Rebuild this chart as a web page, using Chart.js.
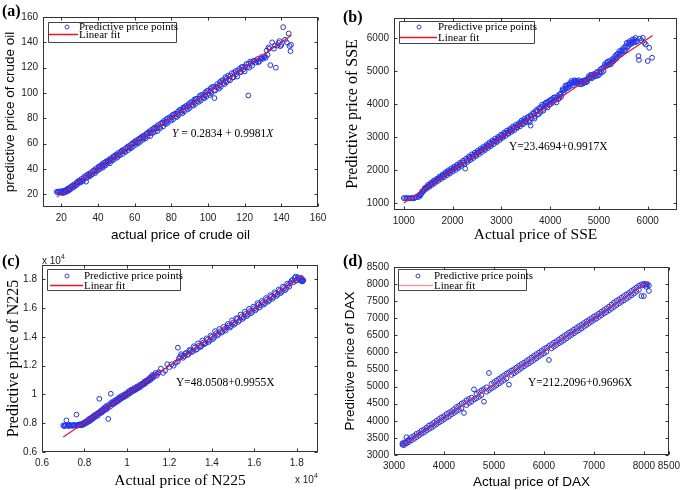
<!DOCTYPE html>
<html><head><meta charset="utf-8">
<script src="https://cdn.jsdelivr.net/npm/chart.js@4"></script>
<style>
body{margin:0;background:#fff;width:685px;height:490px;position:relative;overflow:hidden}
canvas{position:absolute}
.lab{position:absolute;white-space:nowrap;color:#000;line-height:1}
.pl{font:bold 16px 'Liberation Serif'}
.eq{font:11.5px 'Liberation Serif'}
.ex{font:10px 'Liberation Sans';color:#222}
.ex sup{font-size:7px;vertical-align:5px}
</style></head><body>
<canvas id="ca" width="340" height="245" style="left:0;top:0"></canvas>
<canvas id="cb" width="345" height="245" style="left:340px;top:0"></canvas>
<canvas id="cc" width="340" height="245" style="left:0;top:245px"></canvas>
<canvas id="cd" width="345" height="245" style="left:340px;top:245px"></canvas>
<div class="lab pl" style="left:2px;top:2px">(a)</div>
<div class="lab pl" style="left:343px;top:8px">(b)</div>
<div class="lab pl" style="left:2px;top:252px">(c)</div>
<div class="lab pl" style="left:343px;top:252px">(d)</div>
<div class="lab eq" style="left:172px;top:127px"><i>Y</i> = 0.2834 + 0.9981<i>X</i></div>
<div class="lab eq" style="left:509px;top:140px">Y=23.4694+0.9917X</div>
<div class="lab eq" style="left:176px;top:376px">Y=48.0508+0.9955X</div>
<div class="lab eq" style="left:528px;top:376px">Y=212.2096+0.9696X</div>
<div class="lab ex" style="left:42px;top:253px">x 10<sup>4</sup></div>
<div class="lab ex" style="left:295px;top:472px">x 10<sup>4</sup></div>
<script>
// ---------------- data ----------------
const oilPoints = [[17.5,22],[18,21.5],[18.5,22.3],[19,21.8],[19.5,22],[20,21.2],[20.5,22.5],[21,21],[21.5,22.8],[22,21.7],[22.5,23.4],[23,22.1],[23.5,24.5],[24,23],[24.5,25.2],[25,24],[26,26.5],[26.5,25.3],[27,27.8],[28,27],[28.5,29.5],[29,28.2],[30,31],[30.5,29.4],[31,32.2],[32,31],[33,34.5],[33.5,30],[34,33.2],[35,36.1],[35.5,34.2],[36,37],[37,36],[38,39.2],[38.5,36.8],[39,40.5],[40,39.1],[40.5,42],[41,40],[42,43.5],[42.5,41],[43,44.8],[44,42.7],[44.5,46],[45,44.2],[46,47.3],[46.5,44.5],[47,48.5],[48,46.8],[48.5,50],[49,48],[50,51.5],[50.5,49],[51,52.6],[52,50.8],[53,54.5],[53.5,52],[54,55.2],[55,53.5],[56,57.5],[56.5,55],[57,58.3],[58,56.4],[58.5,60],[59,57.6],[60,61.8],[60.5,59],[61,62.7],[62,60.3],[62.5,64],[63,61.5],[64,65.6],[64.5,63],[65,66.5],[66,64.2],[66.5,68],[67,65.8],[68,69.7],[68.5,66],[69,70.8],[70,68.5],[70.5,72.4],[71,69.5],[72,73.8],[72.5,70],[73,74.9],[74,72.3],[75,76.5],[75.5,73.6],[76,78],[77,75.5],[77.5,79.6],[78,76.4],[79,80.8],[80,78.2],[80.5,82.5],[81,79.3],[82,83.6],[83,81],[83.5,85.2],[84,82.5],[85,86.9],[86,84],[86.5,88.5],[87,85.3],[88,89.8],[89,87],[89.5,91.4],[90,88.2],[91,93],[92,90],[92.5,94.8],[93,91.3],[94,95.5],[95,93],[95.5,97.8],[96,94],[97,98.6],[98,95.8],[98.5,100.5],[99,97],[100,102],[101,98.4],[101.5,103.8],[102,100],[103,105],[103.5,96],[104,102],[105,107],[106,103.5],[106.5,108.7],[107,105],[108,110.2],[109,107],[109.5,112.5],[110,108.5],[111,113.8],[112,110],[113,115.6],[114,112.4],[115,117.3],[116,113],[117,119],[118,116.5],[119,120.5],[120,117],[121,123],[122,98],[122.5,120],[123,124.8],[124,121.5],[125,125.5],[126,124],[127,126.8],[128,125],[129,128.3],[130,127],[131,129],[132,133.5],[133,136],[134,122],[135,140],[136,135],[137,120],[138,137.5],[139,141],[140,138],[141,152],[142,142],[143,140],[144,147],[145,133],[145.3,138],[144.5,137],
[20.2,22.4],[21.3,21.6],[22.3,22.9],[23.3,23.8],[24.3,23.6],[25.3,26.2],[26.3,27],[27.3,26.4],[28.3,28.9],[29.3,30.5],[30.3,30.1],[31.3,30.6],[32.3,33.4],[33.3,33.1],[34.3,35.5],[35.3,35.2],[36.3,35.4],[37.3,38.6],[38.3,38.2],[39.3,38.6],[40.3,41.5],[41.3,42.4],[42.3,42.1],[43.3,43],[44.3,45.6],[45.3,46.2],[46.3,46],[47.3,47.1],[48.3,49.4],[49.3,50.6],[50.3,50.2],[51.3,51],[52.3,53.5],[53.3,54.2],[54.3,53.8],[55.3,56.4],[56.3,57],[57.3,56.6],[58.3,59.2],[59.3,60.5],[60.3,60.4],[61.3,61],[62.3,63.5],[63.3,64.6],[64.3,64.2],[65.3,65],[66.3,67.5],[67.3,68.7],[68.3,68.2],[69.3,69],[70.3,71.6],[71.3,72.5],[72.3,72.1],[73.3,73],[74.3,75.8],[75.3,76.8],[76.3,76.1],[77.3,77.4],[78.3,80],[79.3,79.5],[80.3,80.6],[81.3,82.9],[82.3,81.6],[83.3,83.4],[84.3,86.2],[85.3,85],[86.3,86.4],[87.3,88.9],[88.3,88.1],[89.3,89.6],[90.3,92.2],[91.3,90.6],[92.3,92.5],[93.3,95.3],[94.3,93.6],[95.3,95.4],[96.3,98.4],[97.3,96.5],[98.3,98.2],[99.3,101.4],[100.3,99.5],[101.3,101.1],[102.3,104.6],[103.3,102.2],[104.3,104.9],[105.3,104.6],[106.3,106.2],[107.3,109.4],[108.3,107.8],[109.3,109.3],[110.3,111.8],[111.3,110.9],[112.3,113.6],[113.3,112.2],[114.3,116],[115.3,114.8],[116.3,117.4],[117.3,116.4],[118.3,120.5],[119.3,118.6],[120.3,121],[121.3,120.4],[122.3,123.2],[123.5,123.6],[124.5,124.9],[126.5,125.6],[127.5,124.2],[128.5,126.9],[129.5,127.6],[130.5,128.4],[131.5,127.8],[132.5,130.2],[133.5,135],[136.5,137.5],[138.5,139.5],[139.5,137]];
const oilFitX = [17.5, 145.5];
const oilFitY = [17.8, 145.5];
const oilXTicks = [20,40,60,80,100,120,140,160];
const oilYTicks = [20,40,60,80,100,120,140,160];

const ssePoints = [[1000,1160],[1030,1155],[1060,1165],[1090,1150],[1120,1160],[1150,1148],[1180,1170],[1210,1155],[1240,1180],[1270,1190],[1300,1230],[1330,1270],[1360,1300],[1390,1350],[1420,1420],[1450,1460],[1480,1500],[1510,1520],[1540,1570],[1570,1590],[1600,1620],[1630,1670],[1660,1680],[1690,1720],[1720,1760],[1750,1770],[1780,1820],[1810,1830],[1840,1880],[1870,1890],[1900,1950],[1930,1940],[1960,1990],[1990,2010],[2020,2050],[2050,2060],[2080,2110],[2110,2100],[2140,2160],[2170,2180],[2200,2240],[2230,2220],[2260,2050],[2290,2310],[2320,2300],[2350,2390],[2380,2380],[2410,2420],[2440,2470],[2470,2460],[2500,2530],[2530,2540],[2560,2580],[2590,2600],[2620,2650],[2650,2640],[2680,2700],[2710,2740],[2740,2730],[2770,2800],[2800,2790],[2830,2860],[2860,2880],[2890,2870],[2920,2940],[2950,2980],[2980,2960],[3010,3050],[3040,3030],[3070,3100],[3100,3140],[3130,3110],[3160,3180],[3190,3220],[3220,3200],[3250,3280],[3280,3300],[3310,3290],[3340,3360],[3370,3380],[3400,3440],[3430,3420],[3460,3500],[3490,3480],[3520,3540],[3550,3600],[3580,3450],[3600,3350],[3620,3650],[3650,3700],[3680,3560],[3710,3760],[3740,3800],[3770,3700],[3800,3880],[3830,3920],[3860,3800],[3890,3960],[3920,4050],[3950,3900],[3980,4100],[4010,4000],[4040,4150],[4070,4080],[4100,4200],[4130,4050],[4160,4250],[4190,4180],[4220,4300],[4250,4400],[4280,4350],[4310,4480],[4340,4550],[4370,4500],[4400,4600],[4430,4650],[4460,4620],[4490,4680],[4520,4640],[4550,4700],[4580,4620],[4610,4680],[4640,4600],[4670,4700],[4700,4650],[4730,4720],[4760,4680],[4790,4840],[4820,4800],[4850,4870],[4880,4820],[4910,4900],[4940,4850],[4970,4980],[5000,4880],[5030,5050],[5060,4950],[5090,5100],[5120,5200],[5150,5150],[5180,5280],[5210,5200],[5240,5250],[5270,5350],[5300,5300],[5330,5450],[5360,5380],[5390,5520],[5420,5600],[5450,5500],[5480,5650],[5510,5700],[5540,5620],[5570,5850],[5600,5750],[5630,5900],[5660,5820],[5690,5950],[5720,5880],[5750,6000],[5780,5900],[5810,5450],[5820,5330],[5840,5980],[5870,5920],[5900,6000],[5930,5850],[5960,5800],[6000,5300],[6030,5700],[6090,5400],
[1315,1200],[1345,1250],[1375,1360],[1405,1380],[1435,1470],[1465,1440],[1495,1560],[1525,1500],[1555,1620],[1585,1560],[1615,1690],[1645,1620],[1675,1740],[1705,1680],[1735,1810],[1765,1740],[1795,1870],[1825,1790],[1855,1940],[1885,1850],[1915,2000],[1945,1900],[1975,2060],[2005,1960],[2035,2110],[2065,2010],[2095,2170],[2125,2070],[2155,2230],[2185,2130],[2215,2290],[2245,2180],[2275,2350],[2305,2250],[2335,2420],[2365,2310],[2395,2480],[2425,2370],[2455,2530],[2485,2430],[2515,2590],[2545,2490],[2575,2650],[2605,2550],[2635,2710],[2665,2610],[2695,2770],[2725,2670],[2755,2840],[2785,2730],[2815,2900],[2845,2790],[2875,2960],[2905,2850],[2935,3010],[2965,2910],[2995,3080],[3025,2980],[3055,3140],[3085,3040],[3115,3200],[3145,3100],[3175,3250],[3205,3160],[3235,3320],[3265,3210],[3295,3370],[3325,3280],[3355,3420],[3385,3330],[3415,3500],[3445,3390],[3475,3560],[3505,3450],[3535,3600],[3565,3500],[3595,3660],[3625,3560],[3655,3740],[3685,3620],[3715,3820],[3745,3680],[3775,3880],[3805,3760],[3835,3980],[3865,3860],[3895,4020],[3925,3940],[3955,4060],[3985,3980],[4015,4130],[4045,4040],[4075,4200],[4105,4120],[4135,4180],[4165,4150],[4195,4300],[4225,4220],[4255,4450],[4285,4420],[4315,4560],[4345,4480],[4375,4600],[4405,4540],[4435,4700],[4465,4560],[4495,4720],[4525,4700],[4555,4640],[4585,4720],[4615,4600],[4645,4680],[4675,4620],[4705,4720],[4735,4660],[4765,4750],[4795,4780],[4825,4880],[4855,4780],[4885,4900],[4915,4840],[4945,4940],[4975,4860],[5005,4950],[5035,4980],[5065,5080],[5095,5000],[5125,5150],[5155,5250],[5185,5180],[5215,5300],[5245,5200],[5275,5280],[5305,5380],[5335,5350],[5365,5500],[5395,5450],[5425,5520],[5455,5600],[5485,5580],[5515,5620],[5545,5750],[5575,5700],[5605,5850],[5635,5800],[5665,5880],[5695,5850],[5725,5950],[5755,5870]];
const sseFitX = [1000, 6100];
const sseFitY = [1015, 6073];
const sseXTicks = [1000,2000,3000,4000,5000,6000];
const sseYTicks = [1000,2000,3000,4000,5000,6000];

const n225Points = [[7000,7850],[7080,7820],[7150,8200],[7200,7840],[7280,7860],[7350,7830],[7420,7850],[7500,7870],[7560,7840],[7620,8600],[7680,7880],[7740,7900],[7800,7860],[7860,7950],[7920,7900],[7980,8050],[8040,7980],[8100,8150],[8160,8100],[8220,8300],[8280,8200],[8340,8400],[8400,8350],[8460,8550],[8520,8480],[8580,8650],[8640,8580],[8700,9700],[8760,8800],[8820,8750],[8880,8950],[8940,8900],[9000,9100],[9060,8980],[9120,8300],[9180,9300],[9240,10050],[9300,9350],[9360,9450],[9420,9380],[9480,9550],[9540,9500],[9600,9700],[9660,9620],[9720,9800],[9780,9750],[9840,9900],[9900,9850],[9960,10000],[10020,9950],[10080,10150],[10140,10080],[10200,10250],[10260,10200],[10320,10350],[10380,10300],[10440,10450],[10500,10420],[10560,10550],[10620,10500],[10680,10700],[10740,10650],[10800,10800],[10860,10750],[10920,10950],[10980,10900],[11040,11050],[11100,11000],[11160,11250],[11220,11150],[11300,11350],[11400,11300],[11500,11550],[11600,11800],[11800,11650],[12000,11900],[12100,12100],[12200,12000],[12400,13250],[12400,12300],[12500,12600],[12600,12700],[12700,12650],[12800,12900],[12900,12800],[13000,13050],[13100,13000],[13200,13250],[13300,13150],[13400,13400],[13500,13350],[13600,13600],[13700,13550],[13800,13800],[13900,13750],[14000,14000],[14100,13950],[14200,14250],[14300,14150],[14400,14400],[14500,14350],[14600,14550],[14700,14650],[14800,14800],[14900,14750],[15000,15000],[15100,14950],[15200,15250],[15300,15150],[15400,15400],[15500,15350],[15600,15600],[15700,15550],[15800,15800],[15900,15750],[16000,16000],[16100,15950],[16200,16250],[16300,16200],[16400,16400],[16500,16350],[16600,16600],[16700,16550],[16800,16800],[16900,16750],[17000,17000],[17100,16950],[17200,17200],[17300,17150],[17400,17400],[17500,17350],[17600,17600],[17700,17750],[17800,17950],[17900,18100],[17950,18200],[18000,17950],[18100,18050],[18200,17900],[18250,18000],[18300,17950],
[7040,7800],[7120,7880],[7240,7800],[7320,7880],[7460,7820],[7530,7880],[7650,7830],[7710,7860],[7770,7920],[7830,7900],[7890,7870],[7950,7980],[8010,7950],[8070,8100],[8130,8050],[8190,8250],[8250,8150],[8310,8350],[8370,8280],[8430,8500],[8490,8420],[8550,8600],[8610,8520],[8670,8750],[8730,8680],[8790,8900],[8850,8820],[8910,9050],[8970,8950],[9030,9200],[9090,9100],[9150,9250],[9210,9150],[9270,9450],[9330,9300],[9390,9550],[9450,9450],[9510,9650],[9570,9550],[9630,9800],[9690,9700],[9750,9900],[9810,9800],[9870,10000],[9930,9900],[9990,10100],[10050,10050],[10110,10250],[10170,10150],[10230,10350],[10290,10250],[10350,10450],[10410,10350],[10470,10550],[10530,10450],[10590,10650],[10650,10600],[10710,10750],[10770,10700],[10830,10900],[10890,10850],[10950,11000],[11010,10950],[11070,11150],[11130,11100],[11200,11350],[11260,11250],[11350,11500],[11450,11450],[11700,11500],[11900,12100],[12300,12200],[12450,12500],[12550,12800],[12650,12550],[12750,12850],[12850,12750],[12950,13100],[13050,12950],[13150,13350],[13250,13100],[13350,13550],[13450,13300],[13550,13750],[13650,13500],[13750,13900],[13850,13650],[13950,14100],[14050,13850],[14150,14400],[14250,14100],[14350,14550],[14450,14300],[14550,14700],[14650,14450],[14750,14900],[14850,14650],[14950,15150],[15050,14850],[15150,15300],[15250,15050],[15350,15550],[15450,15250],[15550,15750],[15650,15450],[15750,15950],[15850,15650],[15950,16100],[16050,15850],[16150,16350],[16250,16050],[16350,16500],[16450,16250],[16550,16700],[16650,16450],[16750,16900],[16850,16650],[16950,17100],[17050,16850],[17150,17300],[17250,17050],[17350,17500],[17450,17250],[17550,17700],[17650,17500],[17750,17900],[17850,17800],[17950,17900],[18050,18150],[18150,17950],[18200,18100],[18300,17900],[18250,17850]];
const n225FitX = [7000, 18300];
const n225FitY = [7050, 18250];
const n225XTicks = [6000,8000,10000,12000,14000,16000,18000];
const n225YTicks = [6000,8000,10000,12000,14000,16000,18000];

const daxPoints = [[3170,3340],[3170,3300],[3200,3370],[3200,3290],[3230,3360],[3250,3520],[3250,3340],[3280,3420],[3300,3460],[3300,3380],[3350,3520],[3350,3430],[3400,3560],[3400,3470],[3450,3620],[3450,3520],[3500,3650],[3500,3570],[3550,3710],[3550,3620],[3600,3750],[3600,3660],[3650,3800],[3650,3710],[3700,3860],[3700,3760],[3750,3900],[3750,3800],[3800,3950],[3800,3850],[3850,4000],[3850,3900],[3900,4050],[3900,3950],[3950,4100],[3950,3990],[4000,4140],[4000,4040],[4050,4200],[4050,4090],[4100,4240],[4100,4130],[4150,4280],[4150,4190],[4200,4340],[4200,4230],[4250,4400],[4250,4280],[4300,4440],[4300,4320],[4350,4500],[4350,4370],[4400,4540],[4400,4230],[4450,4600],[4450,4460],[4500,4640],[4500,4520],[4550,4680],[4550,4560],[4600,4920],[4600,4620],[4650,4790],[4650,4660],[4700,4840],[4700,4700],[4750,4890],[4750,4750],[4800,4930],[4800,4560],[4850,4980],[4850,4850],[4900,5400],[4900,4900],[4950,5080],[4950,4950],[5000,5130],[5000,4990],[5050,5180],[5050,5040],[5100,5230],[5100,5090],[5150,5280],[5150,5140],[5200,5330],[5200,5190],[5250,5380],[5250,5240],[5300,5420],[5300,5060],[5350,5470],[5350,5340],[5400,5510],[5400,5390],[5450,5560],[5450,5440],[5500,5610],[5500,5490],[5550,5660],[5550,5540],[5600,5700],[5600,5590],[5650,5750],[5650,5640],[5700,5800],[5700,5680],[5750,5850],[5750,5730],[5800,5900],[5800,5780],[5850,5950],[5850,5830],[5900,6000],[5900,5880],[5950,6050],[5950,5930],[6000,6100],[6000,5970],[6050,6140],[6050,6020],[6100,6190],[6100,5780],[6150,6240],[6150,6120],[6200,6290],[6200,6170],[6250,6330],[6250,6220],[6300,6380],[6300,6270],[6350,6430],[6350,6310],[6400,6480],[6400,6360],[6450,6530],[6450,6410],[6500,6580],[6500,6460],[6550,6620],[6550,6510],[6600,6670],[6600,6560],[6650,6720],[6650,6610],[6700,6770],[6700,6650],[6750,6810],[6750,6700],[6800,6860],[6800,6750],[6850,6910],[6850,6800],[6900,6950],[6900,6850],[6950,7000],[6950,6900],[7000,7050],[7000,6950],[7050,7090],[7050,6990],[7100,7140],[7100,7040],[7150,7190],[7150,7090],[7200,7240],[7200,7140],[7250,7290],[7250,7180],[7300,7340],[7300,7230],[7350,7400],[7350,7280],[7400,7460],[7400,7330],[7450,7510],[7450,7380],[7500,7550],[7500,7430],[7550,7600],[7550,7480],[7600,7650],[7600,7520],[7650,7700],[7650,7570],[7700,7740],[7700,7620],[7750,7800],[7750,7670],[7800,7850],[7800,7720],[7850,7900],[7850,7780],[7900,7950],[7900,7830],[7950,7990],[7950,7650],[7980,7960],[8000,8010],[8000,7650],[8030,7980],[8050,8000],[8050,7920],[8070,7990],[8100,7960],[8100,7800]];
const daxFitX = [3170, 8100];
const daxFitY = [3286, 8066];
const daxXTicks = [3000,4000,5000,6000,7000,8000,8500];
const daxYTicks = [3000,3500,4000,4500,5000,5500,6000,6500,7000,7500,8000,8500];

const legendLabels = ['Predictive price points', 'Linear fit'];

// ---------------- drawing ----------------
const SANS = "'Liberation Sans', Arial, sans-serif";
const SERIF = "'Liberation Serif', 'Times New Roman', serif";
const BLUE = 'rgb(30,50,240)';

function makeChart(id, pts, fx, fy, xt, yt, o) {
  const W = o.W, H = o.H;
  const frame = {
    id: 'frame',
    afterDraw(chart) {
      const {ctx, chartArea: a, scales: {x, y}} = chart;
      ctx.save();
      ctx.strokeStyle = '#333'; ctx.lineWidth = 1;
      const L = Math.round(a.left) + 0.5, R = Math.round(a.right) - 0.5;
      const T = Math.round(a.top) + 0.5, B = Math.round(a.bottom) - 0.5;
      ctx.strokeRect(L, T, R - L, B - T);
      ctx.beginPath();
      x.ticks.forEach(t => { const p = Math.round(x.getPixelForValue(t.value)) + 0.5;
        ctx.moveTo(p, B); ctx.lineTo(p, B - 3); ctx.moveTo(p, T); ctx.lineTo(p, T + 3); });
      y.ticks.forEach(t => { const p = Math.round(y.getPixelForValue(t.value)) + 0.5;
        ctx.moveTo(L, p); ctx.lineTo(L + 3, p); ctx.moveTo(R, p); ctx.lineTo(R - 3, p); });
      ctx.stroke();
      // legend
      const g = o.leg;
      ctx.fillStyle = '#fff';
      ctx.fillRect(g.x, g.y, g.w, g.h);
      ctx.beginPath();
      ctx.strokeStyle = '#444'; ctx.lineWidth = 1;
      ctx.rect(g.x + 0.5, g.y + 0.5, g.w, g.h); ctx.stroke();
      ctx.beginPath(); ctx.strokeStyle = BLUE; ctx.lineWidth = 0.9;
      ctx.arc(g.mx, g.r1, 2, 0, Math.PI * 2); ctx.stroke();
      ctx.beginPath(); ctx.strokeStyle = o.legLine; ctx.lineWidth = 1.5;
      ctx.moveTo(g.l1, g.r2 + 0.5); ctx.lineTo(g.l2, g.r2 + 0.5); ctx.stroke();
      ctx.fillStyle = '#000'; ctx.font = '11px ' + SERIF; ctx.textBaseline = 'middle';
      ctx.fillText(legendLabels[0], g.tx, g.r1);
      ctx.fillText(legendLabels[1], g.tx, g.r2 + 1);
      ctx.restore();
    }
  };
  return new Chart(document.getElementById(id), {
    type: 'scatter',
    data: { datasets: [
      { label: legendLabels[0], order: 2, data: pts.map(p => ({x: p[0], y: p[1]})), showLine: false,
        pointRadius: 2.4, pointBorderWidth: 1, pointBorderColor: BLUE, pointBackgroundColor: 'rgba(0,0,0,0)' },
      { label: legendLabels[1], order: 1, data: fx.map((v, i) => ({x: v, y: fy[i]})), showLine: true,
        pointRadius: 0, borderColor: o.fitColor, borderWidth: 1.2 }
    ]},
    options: {
      responsive: false, animation: false, devicePixelRatio: 1,
      layout: { padding: { left: 0, top: o.area[1], right: W - o.area[2], bottom: 0 } },
      plugins: { legend: { display: false }, tooltip: { enabled: false } },
      scales: {
        x: { type: 'linear', min: o.xmin, max: o.xmax,
          afterBuildTicks: s => { s.ticks = xt.map(v => ({value: v})); },
          afterFit: s => { s.height = H - o.area[3]; },
          grid: { display: true, drawOnChartArea: false, drawTicks: false },
          border: { display: false },
          ticks: { padding: 5, color: '#222', font: { family: SANS, size: 10 }, maxRotation: 0, autoSkip: false,
            callback: o.fmt },
          title: { display: true, text: o.xTitle, color: '#000', padding: { top: 0, bottom: o.xtPad },
            font: { family: o.titleFont, size: o.xtSize, weight: 'normal' } } },
        y: { type: 'linear', min: o.ymin, max: o.ymax,
          afterBuildTicks: s => { s.ticks = yt.map(v => ({value: v})); },
          afterFit: s => { s.width = o.area[0]; },
          grid: { display: true, drawOnChartArea: false, drawTicks: false },
          border: { display: false },
          ticks: { padding: 5, color: '#222', font: { family: SANS, size: 10 }, autoSkip: false,
            callback: o.fmt },
          title: { display: true, text: o.yTitle, color: '#000', padding: { top: o.ytPad, bottom: 0 },
            font: { family: o.titleFont, size: o.ytSize, weight: 'normal' } } }
      }
    },
    plugins: [frame]
  });
}

const plain = v => String(v);
const e4 = v => String(Math.round(v / 1000) / 10);

makeChart('ca', oilPoints, oilFitX, oilFitY, oilXTicks, oilYTicks, {
  W: 340, H: 245, area: [43, 17, 318, 207], xmin: 10, xmax: 160, ymin: 10, ymax: 160, fmt: plain,
  xTitle: 'actual price of crude oil', yTitle: 'predictive price of crude oil', titleFont: SANS,
  xtSize: 13.5, ytSize: 13.5, xtPad: 2, ytPad: 2, fitColor: 'rgb(240,20,30)', legLine: 'rgb(240,20,30)',
  leg: { x: 48, y: 22, w: 128, h: 20, mx: 67, r1: 27, r2: 34, l1: 49, l2: 78, tx: 79 } });

makeChart('cb', ssePoints, sseFitX, sseFitY, sseXTicks, sseYTicks, {
  W: 345, H: 245, area: [54, 18, 337, 210], xmin: 800, xmax: 6600, ymin: 800, ymax: 6600, fmt: plain,
  xTitle: 'Actual price of SSE', yTitle: 'Predictive price of SSE', titleFont: SERIF,
  xtSize: 15.5, ytSize: 16, xtPad: 1, ytPad: 3, fitColor: 'rgb(240,20,30)', legLine: 'rgb(240,20,30)',
  leg: { x: 59, y: 21, w: 135, h: 22, mx: 79, r1: 27, r2: 37, l1: 60, l2: 97, tx: 98 } });

makeChart('cc', n225Points, n225FitX, n225FitY, n225XTicks, n225YTicks, {
  W: 340, H: 245, area: [42, 20, 318, 207], xmin: 6000, xmax: 19000, ymin: 6000, ymax: 19000, fmt: e4,
  xTitle: 'Actual price of N225', yTitle: 'Predictive price of N225', titleFont: SERIF,
  xtSize: 15.5, ytSize: 16, xtPad: 0, ytPad: 4, fitColor: 'rgb(240,20,30)', legLine: 'rgb(240,20,30)',
  leg: { x: 47, y: 24, w: 133, h: 21, mx: 67, r1: 31, r2: 40, l1: 50, l2: 83, tx: 84 } });

makeChart('cd', daxPoints, daxFitX, daxFitY, daxXTicks, daxYTicks, {
  W: 345, H: 245, area: [54, 22, 334, 210], xmin: 3000, xmax: 8500, ymin: 3000, ymax: 8500, fmt: plain,
  xTitle: 'Actual price of DAX', yTitle: 'Predictive price of DAX', titleFont: SANS,
  xtSize: 13.5, ytSize: 13.5, xtPad: 0, ytPad: 2, fitColor: 'rgb(235,40,60)', legLine: 'rgb(255,150,165)',
  leg: { x: 58, y: 24, w: 128, h: 21, mx: 78, r1: 31, r2: 40, l1: 59, l2: 93, tx: 94 } });
</script>
</body></html>
